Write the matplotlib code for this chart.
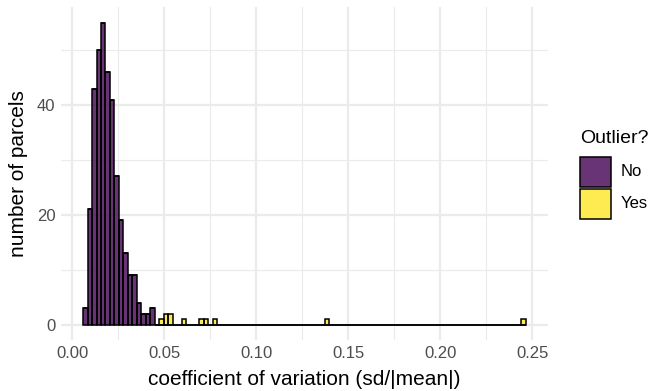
import numpy as np
import matplotlib.pyplot as plt
from matplotlib.colors import to_rgba
from matplotlib.patches import Rectangle

plt.rcParams['font.family'] = ['Liberation Sans', 'DejaVu Sans']

# histogram bins (centre of first bin and bin width, in CV units)
bin_width = 0.00243
first_center = 0.0071
n_bins = 99

# counts of non-outlier parcels, bins 0..15
no_counts = [3, 21, 43, 50, 55, 46, 41, 27, 19, 13, 9, 9, 4, 2, 2, 3]
# outlier parcels: bin index and count
yes_bins = [17, 18, 19, 22, 26, 27, 29, 54, 98]
yes_counts = [1, 2, 2, 1, 1, 1, 1, 1, 1]

x_major = [0.0, 0.05, 0.10, 0.15, 0.20, 0.25]
x_minor = [0.025, 0.075, 0.125, 0.175, 0.225]
y_major = [0, 20, 40]
y_minor = [10, 30, 50]

legend_labels = ['No', 'Yes']
purple = '#440154'
yellow = '#FDE725'

centers = first_center + bin_width * np.arange(n_bins)
no = np.zeros(n_bins)
no[:len(no_counts)] = no_counts
yes = np.zeros(n_bins)
yes[yes_bins] = yes_counts

fig = plt.figure(figsize=(6.51, 3.91), dpi=100)
ax = fig.add_axes([0.0937, 0.1304, 0.748, 0.8506])

# grid like theme_minimal
for v in x_major:
    ax.axvline(v, color='#EBEBEB', lw=1.6, zorder=0)
for v in x_minor:
    ax.axvline(v, color='#EBEBEB', lw=0.8, zorder=0)
for v in y_major:
    ax.axhline(v, color='#EBEBEB', lw=1.6, zorder=0)
for v in y_minor:
    ax.axhline(v, color='#EBEBEB', lw=0.8, zorder=0)

ax.bar(centers, no, width=bin_width, color=purple, alpha=0.8,
       edgecolor='none', zorder=2)
ax.bar(centers, yes, width=bin_width, bottom=no, color=yellow, alpha=0.8,
       edgecolor='none', zorder=2)
# outlines (opaque)
ax.bar(centers, no, width=bin_width, facecolor='none',
       edgecolor='black', lw=1.1, zorder=3)
ax.bar(centers, yes, width=bin_width, bottom=no, facecolor='none',
       edgecolor='black', lw=1.1, zorder=3)

lo = centers[0] - bin_width / 2
hi = centers[-1] + bin_width / 2
pad = 0.05 * (hi - lo)
ax.set_xlim(lo - pad, hi + pad)
ax.set_ylim(-0.05 * 55, 55 * 1.05)

ax.set_xticks(x_major)
ax.set_xticklabels(['0.00', '0.05', '0.10', '0.15', '0.20', '0.25'])
ax.set_yticks(y_major)
ax.tick_params(length=0, labelsize=12, labelcolor='#4D4D4D', pad=4)
for s in ax.spines.values():
    s.set_visible(False)

ax.set_xlabel('coefficient of variation (sd/|mean|)', fontsize=15, labelpad=7)
ax.set_ylabel('number of parcels', fontsize=15, labelpad=6)

# legend drawn by hand (figure pixel positions)
W, H = 651, 391
fig.text(580 / W, 1 - 138 / H, 'Outlier?', fontsize=14, va='center', ha='left')
for i, (lab, col) in enumerate(zip(legend_labels, [purple, yellow])):
    top = 157 + i * 32
    fig.add_artist(Rectangle((580 / W, 1 - (top + 30) / H), 31 / W, 30 / H,
                             transform=fig.transFigure,
                             facecolor=to_rgba(col, 0.8), edgecolor='black', lw=1.1))
    fig.text(621 / W, 1 - (top + 15) / H, lab, fontsize=12, va='center', ha='left')

fig.savefig('out.png', dpi=100)
